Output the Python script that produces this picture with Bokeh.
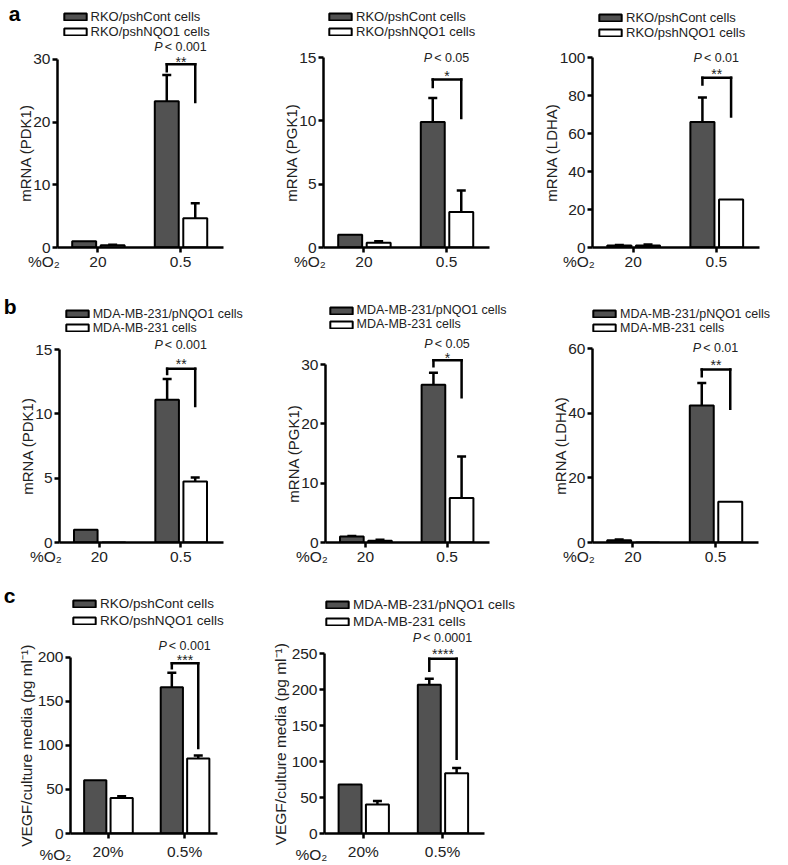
import numpy as np
from bokeh.plotting import figure
from bokeh.models import (Range1d, FixedTicker, Label, Arrow, Whisker, TeeHead,
                          ColumnDataSource, Title, LinearAxis)
from bokeh.layouts import column, row
from bokeh.embed import file_html
from bokeh.resources import INLINE

FONT = "Liberation Sans"
DARK = "#525252"
INK = "#222222"

# ---------------- data ----------------
o2_mrna = ["20", "0.5"]
o2_vegf = ["20%", "0.5%"]
legend_rko = ["RKO/pshCont cells", "RKO/pshNQO1 cells"]
legend_mda = ["MDA-MB-231/pNQO1 cells", "MDA-MB-231 cells"]

# panel a (RKO)
a_pdk1_cont = [1.0, 23.3]
a_pdk1_cont_err = [0.0, 4.2]
a_pdk1_nqo1 = [0.35, 4.65]
a_pdk1_nqo1_err = [0.1, 2.4]
a_pgk1_cont = [1.0, 9.9]
a_pgk1_cont_err = [0.0, 1.9]
a_pgk1_nqo1 = [0.37, 2.8]
a_pgk1_nqo1_err = [0.13, 1.7]
a_ldha_cont = [1.0, 66.0]
a_ldha_cont_err = [0.3, 13.0]
a_ldha_nqo1 = [1.1, 25.2]
a_ldha_nqo1_err = [0.5, 0.0]

# panel b (MDA-MB-231)
b_pdk1_pnqo1 = [1.0, 11.1]
b_pdk1_pnqo1_err = [0.0, 1.6]
b_pdk1_mda = [0.0, 4.75]
b_pdk1_mda_err = [0.0, 0.3]
b_pgk1_pnqo1 = [1.0, 26.6]
b_pgk1_pnqo1_err = [0.1, 2.0]
b_pgk1_mda = [0.3, 7.5]
b_pgk1_mda_err = [0.15, 7.0]
b_ldha_pnqo1 = [0.7, 42.4]
b_ldha_pnqo1_err = [0.2, 6.9]
b_ldha_mda = [0.0, 12.6]
b_ldha_mda_err = [0.0, 0.0]

# panel c (VEGF)
c_rko_cont = [60.4, 166.0]
c_rko_cont_err = [0.0, 16.5]
c_rko_nqo1 = [40.4, 85.0]
c_rko_nqo1_err = [1.9, 3.4]
c_mda_pnqo1 = [68.0, 206.5]
c_mda_pnqo1_err = [0.0, 8.3]
c_mda = [40.3, 83.8]
c_mda_err = [5.0, 7.3]

p_values = {"a1": "< 0.001", "a2": "< 0.05", "a3": "< 0.01",
            "b1": "< 0.001", "b2": "< 0.05", "b3": "< 0.01",
            "c1": "< 0.001", "c2": "< 0.0001"}
stars = {"a1": "**", "a2": "*", "a3": "**", "b1": "**", "b2": "*", "b3": "**",
         "c1": "***", "c2": "****"}

# ---------------- helpers ----------------
AW = {' ': 278, '(': 333, ')': 333, '/': 278, '%': 889, '.': 278, '<': 584, '-': 333,
      'A': 667, 'B': 667, 'C': 722, 'D': 722, 'E': 667, 'F': 611, 'G': 778, 'H': 722,
      'K': 667, 'L': 556, 'M': 833, 'N': 722, 'O': 778, 'P': 667, 'Q': 778, 'R': 722,
      'V': 667, 'a': 556, 'c': 500, 'd': 556, 'e': 556, 'g': 556, 'h': 556, 'i': 222,
      'l': 222, 'm': 833, 'n': 556, 'o': 556, 'p': 556, 'r': 333, 's': 500, 't': 278,
      'u': 556, '\u207b': 420, '\u00b9': 333}


def tw(s, size):
    return sum(AW.get(c, 556) for c in s) * size / 1000.0


X0 = -0.49
OFF_D, OFF_W, BW = -0.167, 0.178, 0.29


def panel(key, width, height, left, bottom, axis_top, axis_right, x_end, ymax, yticks,
          ylabel, cats, dark, dark_err, white, white_err, legends, leg_dx, leg_dy,
          bracket, star_dy, p_dy, letter=None, letter_dy=0, letter_shift=0,
          ylabel_size=15, ylabel_standoff=-6, leg_font="13px", leg_spacing=0,
          o2_dx=-29.5):
    axis_h = height - bottom - axis_top
    ppu = axis_h / ymax
    ppx = (axis_right - left) / (x_end - X0)
    frame_w = width - left
    y_top = ymax + axis_top / ppu
    x_right = X0 + frame_w / ppx

    p = figure(width=width, height=height, min_border_left=left, min_border_right=0,
               min_border_top=0, min_border_bottom=bottom,
               x_range=Range1d(X0, x_right), y_range=Range1d(0, y_top),
               output_backend="svg", toolbar_location=None)

    xs = np.arange(len(cats))
    xd = xs + OFF_D
    xw = xs + OFF_W
    p.vbar(x=xd, top=dark, width=BW, fill_color=DARK, line_color="black",
           line_width=2, legend_label=legends[0])
    p.vbar(x=xw, top=white, width=BW, fill_color="white", line_color="black",
           line_width=2, legend_label=legends[1])

    ex, lo, hi = [], [], []
    for xx, v, e in list(zip(xd, dark, dark_err)) + list(zip(xw, white, white_err)):
        if e > 0:
            ex.append(xx); lo.append(v); hi.append(v + e)
    if ex:
        src = ColumnDataSource(dict(x=ex, lower=lo, upper=hi))
        p.add_layout(Whisker(source=src, base="x", lower="lower", upper="upper",
                             dimension="height", line_width=2.5, line_color="black",
                             upper_head=TeeHead(size=9, line_width=2.5, line_color="black"),
                             lower_head=None))

    # axes
    for ax in (p.xaxis[0], p.yaxis[0]):
        ax.axis_line_width = 2.5
        ax.axis_line_color = "black"
        ax.major_tick_line_width = 2.5
        ax.major_tick_line_color = "black"
        ax.major_tick_out = 5
        ax.major_tick_in = 0
        ax.minor_tick_line_color = None
        ax.major_label_text_font = FONT
        ax.major_label_text_font_size = "15.5px"
        ax.major_label_text_color = INK
    p.xaxis.bounds = (X0, x_end)
    p.yaxis.bounds = (0, ymax)
    p.xaxis.ticker = FixedTicker(ticks=list(xs))
    p.xaxis.major_label_overrides = {int(i): c for i, c in zip(xs, cats)}
    p.xaxis.major_label_standoff = 4
    p.yaxis.ticker = FixedTicker(ticks=yticks)
    p.yaxis.major_label_standoff = 2
    p.xgrid.visible = False
    p.ygrid.visible = False
    p.outline_line_color = None

    # y axis title, centred on the drawn axis
    L = tw(ylabel, ylabel_size)
    p.add_layout(Title(text=ylabel, align="left", offset=axis_h / 2 - L / 2,
                       standoff=ylabel_standoff, text_font=FONT,
                       text_font_size=f"{ylabel_size}px",
                       text_font_style="normal", text_color=INK), "left")

    # %O2 label under the lower-left corner
    p.add_layout(Title(text="%O\u2082", align="left", offset=o2_dx, vertical_align="top",
                       standoff=-34, text_font=FONT, text_font_size="15.5px",
                       text_font_style="normal", text_color=INK), "below")

    # panel letter
    if letter:
        ly = ymax + letter_dy / ppu
        lax = LinearAxis(ticker=FixedTicker(ticks=[ly]), major_label_overrides={ly: letter},
                         axis_line_color=None, major_tick_line_color=None,
                         minor_tick_line_color=None, major_tick_out=0, major_tick_in=0,
                         major_label_standoff=letter_shift, major_label_text_font=FONT,
                         major_label_text_font_style="bold",
                         major_label_text_font_size="21px", major_label_text_color="black")
        p.add_layout(lax, "left")

    # legend
    leg = p.legend[0]
    leg.location = (leg_dx, axis_h + leg_dy)
    leg.padding = 0
    leg.margin = 0
    leg.border_line_color = None
    leg.background_fill_alpha = 0
    leg.glyph_width = 28
    leg.glyph_height = 9
    leg.label_standoff = 2
    leg.spacing = leg_spacing
    leg.label_height = 12
    leg.label_text_font = FONT
    leg.label_text_font_size = leg_font
    leg.label_text_color = INK

    # significance bracket
    btop, lleg, rleg = bracket
    xl, xr = 1 + OFF_D, 1 + OFF_W
    for (x1, y1, x2, y2) in [(xl, btop, xr, btop), (xl, btop, xl, lleg), (xr, btop, xr, rleg)]:
        p.add_layout(Arrow(end=None, x_start=x1, y_start=y1, x_end=x2, y_end=y2,
                           line_width=2.5, line_color="black", line_cap="square"))
    xc = (xl + xr) / 2
    p.add_layout(Label(x=xc, y=btop + (star_dy - 3) / ppu, text=stars[key],
                       text_align="center", text_baseline="middle",
                       text_font=FONT, text_font_size="14px", text_color=INK))
    psz = 12.5
    ptxt = p_values[key]
    W = tw("P", psz) + 2 + tw(ptxt, psz)
    left_px = -W / 2
    py = btop + p_dy / ppu
    p.add_layout(Label(x=1.0, y=py, x_offset=left_px, text="P", text_align="left",
                       text_baseline="middle", text_font=FONT, text_font_style="italic",
                       text_font_size="12.5px", text_color=INK))
    p.add_layout(Label(x=1.0, y=py, x_offset=left_px + tw("P", psz) + 2, text=ptxt,
                       text_align="left", text_baseline="middle", text_font=FONT,
                       text_font_size="12.5px", text_color=INK))
    return p


a1 = panel("a1", 258, 294, 57, 46, 59, 223, 1.52, 30, [0, 10, 20, 30], "mRNA (PDK1)",
           o2_mrna, a_pdk1_cont, a_pdk1_cont_err, a_pdk1_nqo1, a_pdk1_nqo1_err, legend_rko,
           3.5, 19.5, (29.2, 28.1, 23.2), 5, 17.3, letter="a", letter_dy=49, letter_shift=-3)
a2 = panel("a2", 256, 294, 65, 47, 57, 231, 1.52, 15, [0, 5, 10, 15], "mRNA (PGK1)",
           o2_mrna, a_pgk1_cont, a_pgk1_cont_err, a_pgk1_nqo1, a_pgk1_nqo1_err, legend_rko,
           3, 18, (13.26, 12.68, 10.23), 7, 22)
a3 = panel("a3", 258, 294, 78, 47, 57, 245, 1.52, 100, [0, 20, 40, 60, 80, 100], "mRNA (LDHA)",
           o2_mrna, a_ldha_cont, a_ldha_cont_err, a_ldha_nqo1, a_ldha_nqo1_err, legend_rko,
           4, 17.5, (89.3, 85.8, 69.0), 6.6, 20)

b1 = panel("b1", 258, 288, 56, 40, 55, 222, 1.52, 15, [0, 5, 10, 15], "mRNA (PDK1)",
           o2_mrna, b_pdk1_pnqo1, b_pdk1_pnqo1_err, b_pdk1_mda, b_pdk1_mda_err, legend_mda,
           3.7, 14.5, (13.5, 13.1, 10.6), 8.3, 24.3, letter="b", letter_dy=44.3,
           letter_shift=3, leg_font="12.5px")
b2 = panel("b2", 256, 288, 67, 40, 70, 231, 1.52, 30, [0, 10, 20, 30], "mRNA (PGK1)",
           o2_mrna, b_pgk1_pnqo1, b_pgk1_pnqo1_err, b_pgk1_mda, b_pgk1_mda_err, legend_mda,
           1.5, 33, (30.7, 29.7, 24.5), 5, 16, leg_font="12.5px")
b3 = panel("b3", 258, 288, 78, 40, 54, 244, 1.52, 60, [0, 20, 40, 60], "mRNA (LDHA)",
           o2_mrna, b_ldha_pnqo1, b_ldha_pnqo1_err, b_ldha_mda, b_ldha_mda_err, legend_mda,
           -2, 13.5, (53.5, 51.4, 41.4), 7.6, 22, leg_font="12.5px")

c1 = panel("c1", 258, 283, 56, 31, 75, 214, 1.43, 200, [0, 50, 100, 150, 200],
           "VEGF/culture media (pg ml\u207b\u00b9)",
           o2_vegf, c_rko_cont, c_rko_cont_err, c_rko_nqo1, c_rko_nqo1_err, legend_rko,
           0, 28, (193.2, 187.6, 97.0), 6, 17.6, letter="c", letter_dy=62,
           ylabel_size=15.5, ylabel_standoff=0, leg_font="13.5px", leg_spacing=2, o2_dx=-31)
c2 = panel("c2", 514, 283, 66, 32, 71, 226, 1.53, 250, [0, 50, 100, 150, 200, 250],
           "VEGF/culture media (pg ml\u207b\u00b9)",
           o2_vegf, c_mda_pnqo1, c_mda_pnqo1_err, c_mda, c_mda_err, legend_mda,
           -1, 23.6, (242.6, 226.0, 103.7), 7.6, 21,
           ylabel_size=15.5, ylabel_standoff=0, leg_font="13.5px", leg_spacing=2, o2_dx=-29)

layout = column(row(a1, a2, a3), row(b1, b2, b3), row(c1, c2))

with open("out.html", "w") as f:
    f.write(file_html(layout, INLINE))
